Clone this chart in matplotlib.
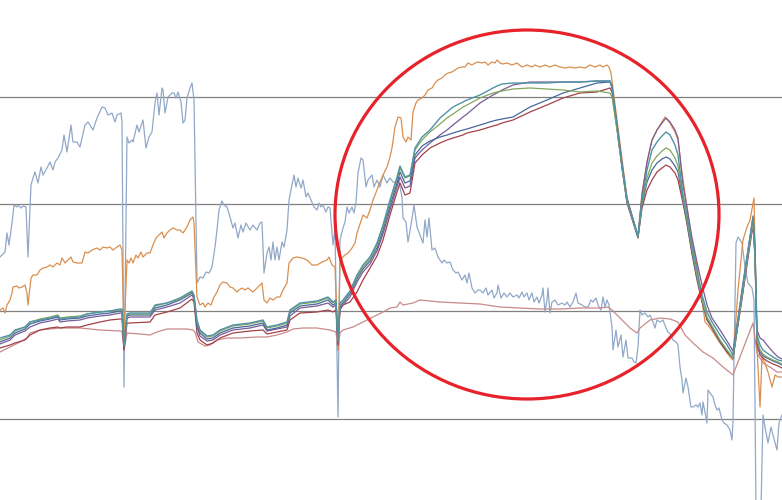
import numpy as np
import matplotlib.pyplot as plt
from matplotlib.patches import Ellipse

# sample positions shared by the five bundled series
x_bundle = [0, 10, 15, 25, 30, 40, 50, 58, 60, 67, 80, 87, 100, 110, 120, 122, 124, 127, 130, 150,
            155, 167, 180, 192, 194, 197, 200, 207, 213, 220, 233, 250, 263, 267, 277, 287, 290, 300, 317, 328,
            333, 336, 338, 340, 343, 350, 357, 363, 370, 377, 383, 390, 397, 400, 405, 410, 415, 422, 430, 440,
            447, 453, 463, 467, 480, 493, 497, 502, 513, 530, 547, 563, 580, 597, 610, 612, 617, 622, 627, 638,
            642, 647, 652, 657, 662, 666, 670, 675, 678, 683, 687, 692, 697, 702, 707, 712, 720, 727, 733, 738,
            743, 748, 753, 755, 757, 760, 763, 767, 773, 778, 782]

teal = [81, 84, 89, 92, 97, 99, 101, 103, 100, 101,
        102, 105, 107, 108, 110, 110, 74, 105, 106, 106,
        114, 116, 121, 128, 124, 99, 89, 83, 84, 89,
        94, 96, 99, 92, 94, 97, 109, 116, 118, 122,
        117, 119, 79, 116, 119, 128, 144, 154, 162, 176,
        194, 219, 242, 253, 242, 244, 271, 282, 289, 301,
        307, 312, 317, 319, 324, 331, 333, 335, 336, 336,
        336, 337, 337, 338, 338, 332, 294, 254, 219, 183,
        219, 249, 269, 277, 283, 287, 284, 274, 264, 224,
        204, 174, 149, 124, 107, 97, 84, 74, 64, 99,
        134, 169, 201, 169, 84, 74, 69, 66, 62, 59,
        58]

green = [79, 83, 88, 92, 97, 100, 102, 104, 101, 102,
         103, 105, 107, 108, 109, 109, 74, 104, 105, 105,
         113, 116, 120, 127, 123, 97, 88, 82, 83, 88,
         93, 95, 98, 91, 93, 96, 108, 115, 117, 121,
         116, 118, 78, 115, 118, 127, 142, 152, 160, 174,
         192, 217, 240, 251, 241, 243, 269, 279, 287, 295,
         301, 305, 312, 314, 321, 326, 327, 328, 330, 331,
         330, 329, 327, 328, 326, 322, 289, 251, 217, 182,
         216, 241, 256, 263, 268, 271, 269, 261, 253, 221,
         199, 169, 143, 119, 102, 93, 79, 69, 61, 96,
         130, 165, 197, 164, 79, 69, 65, 62, 59, 57,
         55]

navy = [77, 81, 86, 90, 95, 98, 100, 102, 99, 100,
        101, 103, 105, 106, 108, 108, 73, 103, 104, 104,
        111, 114, 119, 126, 122, 95, 86, 80, 81, 86,
        91, 93, 96, 89, 91, 94, 106, 113, 115, 119,
        114, 116, 77, 113, 116, 125, 140, 150, 158, 171,
        189, 213, 236, 247, 236, 238, 264, 273, 278, 282,
        284, 286, 289, 290, 294, 298, 299, 300, 302, 312,
        319, 326, 331, 336, 337, 331, 291, 252, 217, 182,
        214, 237, 249, 256, 260, 262, 260, 253, 247, 219,
        197, 167, 141, 118, 101, 92, 78, 68, 61, 95,
        129, 164, 197, 164, 79, 67, 63, 61, 58, 56,
        54]

purple = [75, 79, 84, 88, 92, 96, 98, 100, 97, 98,
          99, 101, 103, 104, 106, 106, 72, 101, 102, 102,
          109, 112, 116, 124, 120, 92, 83, 78, 79, 84,
          89, 91, 94, 88, 90, 92, 103, 111, 113, 116,
          112, 114, 76, 111, 114, 122, 137, 147, 155, 168,
          185, 209, 232, 242, 231, 233, 261, 269, 276, 284,
          289, 294, 302, 305, 316, 324, 326, 329, 334, 337,
          337, 337, 337, 338, 338, 333, 295, 256, 221, 183,
          224, 257, 279, 289, 296, 301, 297, 289, 281, 234,
          211, 181, 157, 134, 114, 101, 89, 78, 68, 101,
          136, 169, 203, 174, 89, 81, 79, 74, 67, 62,
          60]

dark_red = [71, 74, 76, 79, 84, 89, 91, 92, 91, 92,
            92, 94, 97, 99, 100, 100, 69, 96, 96, 97,
            104, 107, 111, 120, 117, 86, 79, 74, 76, 81,
            86, 88, 89, 85, 87, 89, 99, 106, 107, 109,
            107, 109, 74, 109, 114, 117, 127, 139, 151, 163,
            179, 204, 227, 236, 224, 226, 256, 264, 271, 276,
            279, 281, 284, 286, 289, 293, 294, 296, 299, 307,
            314, 321, 326, 327, 331, 327, 291, 252, 216, 181,
            211, 229, 239, 247, 251, 254, 252, 246, 239, 216,
            195, 165, 139, 117, 99, 91, 77, 67, 61, 94,
            127, 161, 194, 161, 74, 64, 61, 58, 55, 53,
            51]

x_pink = [0, 10, 20, 27, 30, 40, 60, 80, 100, 120,
          122, 124, 127, 140, 150, 157, 167, 187, 193, 195,
          198, 205, 210, 217, 227, 240, 257, 267, 277, 287,
          293, 303, 317, 330, 336, 338, 340, 343, 353, 363,
          373, 383, 390, 397, 400, 403, 413, 420, 430, 440,
          460, 480, 500, 520, 540, 560, 580, 600, 608, 612,
          620, 630, 637, 640, 650, 660, 670, 678, 685, 693,
          703, 713, 723, 733, 753, 757, 763, 770, 777, 782]
pink = [67, 72, 77, 81, 86, 89, 91, 91, 89, 88,
        88, 69, 86, 85, 84, 87, 90, 90, 89, 87,
        77, 73, 74, 79, 81, 81, 82, 82, 84, 87,
        90, 91, 91, 89, 87, 69, 86, 89, 92, 97,
        102, 107, 111, 112, 117, 114, 116, 119, 118, 117,
        116, 115, 112, 111, 110, 110, 111, 111, 112, 109,
        101, 91, 86, 91, 99, 101, 100, 97, 84, 76,
        67, 61, 52, 44, 96, 66, 56, 52, 47, 47]

x_orange = [0, 3, 5, 7, 10, 12, 13, 17, 19, 22, 25, 27, 28, 31, 33, 37, 40, 43, 47, 50,
            53, 57, 60, 62, 65, 68, 71, 73, 77, 82, 85, 88, 92, 97, 100, 103, 107, 110, 113, 117,
            120, 122, 124, 127, 129, 131, 133, 136, 138, 141, 143, 147, 150, 153, 156, 159, 162, 164, 167, 170,
            173, 177, 180, 183, 187, 190, 193, 194, 197, 200, 203, 205, 208, 211, 214, 217, 220, 223, 227, 230,
            233, 237, 239, 242, 245, 248, 253, 258, 262, 264, 267, 270, 273, 277, 280, 283, 287, 289, 293, 297,
            302, 307, 312, 317, 322, 327, 329, 332, 335, 338, 340, 342, 345, 348, 352, 355, 357, 360, 363, 367,
            370, 373, 377, 380, 383, 387, 390, 392, 395, 398, 401, 403, 406, 408, 411, 413, 416, 418, 422, 425,
            428, 432, 435, 438, 442, 445, 448, 452, 455, 458, 462, 465, 468, 472, 475, 478, 482, 485, 488, 492,
            495, 497, 500, 503, 507, 512, 517, 522, 527, 532, 535, 540, 545, 550, 555, 560, 565, 570, 575, 580,
            585, 590, 595, 600, 603, 607, 609, 611, 617, 622, 627, 638, 642, 647, 652, 657, 662, 665, 670, 675,
            678, 682, 687, 692, 697, 702, 705, 708, 713, 718, 723, 730, 733, 738, 743, 747, 750, 754, 757, 760,
            762, 765, 768, 772, 775, 778, 782]
orange = [109, 111, 106, 114, 119, 126, 132, 133, 131, 132, 134, 126, 114, 141, 144, 144, 149, 151, 152, 154,
          152, 156, 154, 161, 156, 159, 162, 157, 156, 156, 167, 166, 169, 171, 169, 172, 171, 172, 169, 172,
          174, 169, 84, 159, 156, 161, 156, 164, 161, 167, 162, 166, 166, 174, 181, 184, 187, 181, 186, 189,
          191, 189, 189, 186, 192, 199, 202, 196, 122, 114, 116, 112, 116, 114, 122, 127, 134, 137, 136, 132,
          131, 127, 129, 131, 129, 131, 127, 132, 136, 119, 116, 121, 119, 122, 122, 129, 136, 156, 161, 162,
          161, 159, 154, 154, 157, 159, 162, 154, 152, 69, 156, 161, 164, 166, 171, 176, 186, 195, 204, 201,
          209, 219, 229, 237, 244, 252, 262, 271, 292, 302, 301, 282, 277, 282, 279, 307, 316, 319, 321, 324,
          329, 331, 336, 339, 341, 344, 346, 347, 349, 351, 352, 352, 356, 354, 356, 357, 356, 357, 354, 357,
          356, 359, 356, 355, 356, 354, 356, 352, 354, 352, 354, 352, 354, 352, 354, 352, 351, 352, 351, 352,
          351, 354, 352, 354, 352, 354, 352, 346, 299, 259, 221, 182, 226, 256, 279, 289, 297, 302, 296, 287,
          279, 246, 212, 179, 152, 119, 97, 94, 87, 79, 72, 62, 59, 129, 179, 192, 199, 221, 72, 12,
          62, 56, 47, 32, 44, 42, 42]

x_grey = [0, 5, 7, 9, 12, 14, 17, 18, 21, 23, 26, 28, 31, 33, 35, 38, 41, 43, 47, 50,
          53, 55, 58, 62, 64, 67, 71, 73, 77, 80, 85, 88, 93, 97, 102, 105, 108, 112, 115, 117,
          121, 122, 124, 127, 129, 132, 133, 137, 139, 143, 146, 149, 152, 155, 157, 159, 162, 163, 165, 168,
          172, 174, 176, 178, 181, 183, 185, 187, 190, 192, 194, 197, 200, 203, 206, 209, 212, 215, 217, 219,
          222, 224, 227, 230, 233, 235, 238, 241, 243, 246, 250, 253, 257, 260, 262, 264, 267, 269, 271, 273,
          275, 277, 279, 282, 284, 287, 289, 292, 294, 296, 298, 301, 303, 306, 308, 311, 314, 317, 319, 321,
          323, 326, 328, 330, 333, 335, 338, 340, 343, 345, 347, 349, 352, 354, 356, 358, 361, 363, 366, 368,
          372, 374, 377, 380, 383, 387, 390, 393, 397, 398, 400, 402, 403, 406, 408, 411, 414, 417, 420, 423,
          425, 427, 429, 432, 435, 438, 442, 444, 447, 450, 453, 456, 458, 462, 465, 467, 469, 472, 475, 478,
          480, 483, 486, 488, 492, 494, 497, 498, 501, 504, 507, 510, 513, 517, 519, 522, 524, 527, 529, 532,
          534, 537, 539, 542, 543, 545, 547, 548, 550, 552, 555, 558, 562, 565, 567, 570, 573, 576, 578, 582,
          585, 588, 591, 593, 596, 598, 601, 603, 605, 607, 609, 612, 613, 616, 618, 621, 623, 626, 628, 632,
          634, 636, 638, 640, 642, 645, 648, 650, 653, 655, 657, 660, 663, 666, 668, 671, 673, 676, 678, 680,
          682, 683, 686, 688, 691, 693, 696, 698, 700, 702, 703, 705, 707, 708, 710, 713, 715, 717, 719, 722,
          724, 727, 730, 732, 733, 736, 738, 742, 745, 748, 752, 754, 756, 761, 763, 765, 768, 771, 773, 777,
          779, 782]
grey = [162, 167, 186, 174, 196, 214, 212, 214, 211, 213, 212, 162, 234, 241, 247, 236, 252, 244, 251, 257,
        249, 257, 261, 269, 284, 267, 294, 277, 277, 272, 294, 297, 289, 301, 312, 311, 304, 306, 297, 304,
        306, 297, 32, 282, 276, 279, 277, 294, 287, 299, 271, 282, 287, 316, 326, 304, 331, 329, 306, 322,
        326, 326, 321, 327, 317, 296, 299, 321, 331, 336, 319, 136, 142, 141, 147, 146, 152, 172, 189, 209,
        218, 214, 212, 202, 191, 196, 181, 194, 187, 196, 189, 194, 189, 196, 197, 146, 166, 172, 159, 177,
        159, 172, 159, 177, 172, 189, 219, 234, 244, 232, 241, 231, 239, 222, 226, 219, 212, 209, 216, 212,
        214, 207, 212, 211, 174, 191, 2, 179, 191, 197, 212, 206, 212, 206, 217, 246, 261, 259, 232, 239,
        244, 232, 239, 232, 244, 236, 241, 237, 236, 242, 232, 222, 201, 197, 177, 194, 214, 192, 184, 176,
        199, 182, 201, 169, 171, 162, 156, 159, 156, 157, 149, 146, 147, 139, 144, 136, 146, 131, 126, 129,
        129, 126, 131, 124, 129, 121, 126, 134, 121, 126, 122, 126, 122, 124, 121, 127, 122, 126, 119, 126,
        117, 122, 116, 124, 131, 107, 119, 131, 106, 117, 119, 114, 116, 114, 117, 112, 117, 126, 116, 114,
        112, 112, 119, 117, 121, 114, 109, 122, 112, 119, 114, 92, 69, 89, 72, 84, 62, 79, 61, 61,
        57, 56, 72, 109, 104, 106, 102, 104, 97, 91, 99, 97, 99, 91, 87, 84, 79, 77, 74, 52,
        39, 26, 41, 32, 12, 12, 14, 12, 16, 4, 17, 7, -4, 29, 26, 22, 14, 9, 11, -1,
        -4, -6, -11, -21, -1, 176, 182, 176, 152, 136, 131, 119, -91, -91, 4, -8, -24, -8, -16, -31,
        -4, 4]

fig = plt.figure(figsize=(7.82, 5.0), dpi=100)
ax = fig.add_axes([0, 0, 1, 1])

ax.plot(x_grey, grey, color='#91a8c8', lw=0.9)
ax.plot(x_pink, pink, color='#c98a8a', lw=0.9)
ax.plot(x_orange, orange, color='#d98f4e', lw=0.9)
ax.plot(x_bundle, dark_red, color='#a3414a', lw=0.9)
ax.plot(x_bundle, purple, color='#7a5c96', lw=0.9)
ax.plot(x_bundle, navy, color='#45689c', lw=0.9)
ax.plot(x_bundle, green, color='#84a65c', lw=0.9)
ax.plot(x_bundle, teal, color='#4f93a6', lw=1.0)

# red ring around the peak region
ring = Ellipse((527, 204.5), 384, 369, fill=False, edgecolor='#e8222a', lw=2.3, zorder=5)
ax.add_patch(ring)

ax.set_xlim(0, 782)
ax.set_ylim(-81, 419)
ax.set_yticks([0, 108, 215, 322])
ax.set_xticks([])
ax.grid(axis='y', color='#808080', lw=0.9)
ax.set_axisbelow(True)
ax.tick_params(left=False, labelleft=False)
for s in ax.spines.values():
    s.set_visible(False)

fig.savefig('out.png', dpi=100)
